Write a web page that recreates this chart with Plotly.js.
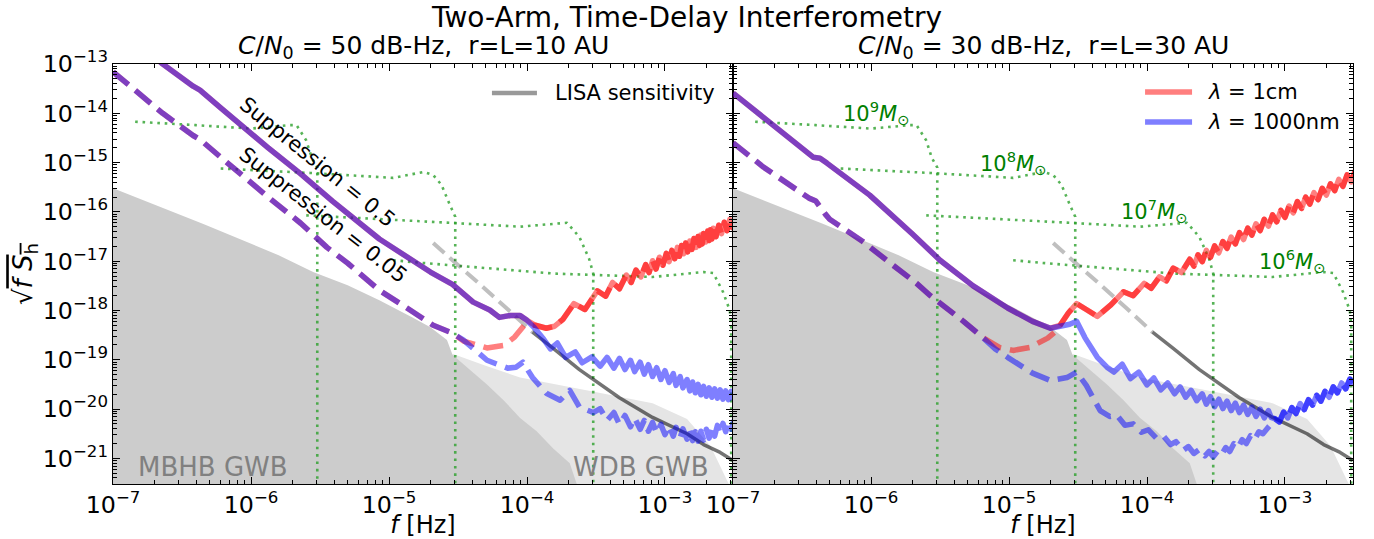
<!DOCTYPE html>
<html><head><meta charset="utf-8">
<script src="https://cdn.plot.ly/plotly-3.0.1.min.js"></script>
<style>html,body{margin:0;padding:0;background:#fff;}#chart{width:1374px;height:539px;}
path.js-line{stroke-linejoin:round;}</style>
</head><body><div id="chart"></div>
<script>
// All values are log10(f [Hz]), log10(sqrt(f S_h)) pairs.

// ---------- Left panel: C/N0 = 50 dB-Hz, r=L=10 AU ----------
const L_common_solid = [[-7.00,-12.18],[-6.64,-13.00],[-6.42,-13.45],[-6.37,-13.53],[-6.22,-13.89],[-5.88,-14.69],[-5.64,-15.23],[-5.41,-15.78],[-5.07,-16.55],[-4.70,-17.22],[-4.54,-17.47],[-4.39,-17.83],[-4.27,-17.99],[-4.20,-18.14],[-4.12,-18.10],[-4.05,-18.10],[-4.00,-18.20]];
const L_red_solid_tail = [[-3.94,-18.30],[-3.86,-18.36],[-3.80,-18.32],[-3.74,-18.18],[-3.66,-17.86],[-3.58,-17.98],[-3.49,-17.60],[-3.43,-17.71],[-3.38,-17.43],[-3.33,-17.56],[-3.28,-17.28],[-3.245,-17.43],[-3.21,-17.18],[-3.175,-17.32],[-3.14,-17.07],[-3.115,-17.23],[-3.09,-16.99],[-3.065,-17.16],[-3.04,-16.92],[-3.015,-17.08],[-2.99,-16.84],[-2.97,-17.01],[-2.95,-16.78],[-2.93,-16.95],[-2.91,-16.72],[-2.895,-16.90],[-2.88,-16.68],[-2.865,-16.85],[-2.85,-16.63],[-2.835,-16.81],[-2.82,-16.59],[-2.805,-16.76],[-2.79,-16.54],[-2.775,-16.72],[-2.76,-16.50],[-2.75,-16.68],[-2.74,-16.47],[-2.73,-16.65],[-2.72,-16.44],[-2.705,-16.61],[-2.69,-16.39],[-2.68,-16.58],[-2.67,-16.36],[-2.66,-16.55],[-2.65,-16.33],[-2.63,-16.50],[-2.61,-16.27],[-2.59,-16.44],[-2.57,-16.21],[-2.55,-16.38],[-2.53,-16.15],[-2.51,-16.32],[-2.49,-16.09]];
const L_common_dashed = [[-7.00,-13.16],[-6.64,-14.00],[-6.42,-14.45],[-6.37,-14.53],[-6.22,-14.89],[-5.88,-15.69],[-5.64,-16.23],[-5.45,-16.72],[-5.30,-17.04],[-5.07,-17.59],[-4.87,-17.95],[-4.68,-18.30],[-4.54,-18.46]];
const L_red_dashed_mid = [[-4.46,-18.62],[-4.29,-18.76],[-4.17,-18.71],[-4.09,-18.54],[-4.02,-18.30]];
const L_blue_solid_tail = [[-3.95,-18.34],[-3.88,-18.58],[-3.83,-18.78],[-3.78,-18.66],[-3.72,-18.95],[-3.65,-18.84],[-3.60,-19.06],[-3.53,-18.94],[-3.47,-19.13],[-3.42,-18.95],[-3.37,-19.17],[-3.33,-18.97],[-3.29,-19.20],[-3.25,-19.01],[-3.22,-19.24],[-3.18,-19.05],[-3.15,-19.29],[-3.12,-19.10],[-3.09,-19.34],[-3.06,-19.16],[-3.03,-19.40],[-3.00,-19.22],[-2.97,-19.46],[-2.94,-19.28],[-2.92,-19.52],[-2.89,-19.34],[-2.87,-19.57],[-2.84,-19.40],[-2.82,-19.63],[-2.80,-19.45],[-2.78,-19.67],[-2.76,-19.50],[-2.74,-19.71],[-2.72,-19.54],[-2.70,-19.74],[-2.68,-19.57],[-2.66,-19.76],[-2.64,-19.59],[-2.62,-19.78],[-2.60,-19.61],[-2.58,-19.80],[-2.56,-19.63],[-2.54,-19.81],[-2.52,-19.64],[-2.50,-19.81]];
const L_blue_dashed_tail = [[-4.46,-18.60],[-4.29,-19.01],[-4.14,-19.17],[-4.08,-19.15],[-4.03,-19.05],[-3.96,-19.36],[-3.86,-19.68],[-3.76,-19.82],[-3.69,-19.62],[-3.62,-19.96],[-3.52,-20.07],[-3.47,-19.99],[-3.42,-20.23],[-3.37,-20.07],[-3.33,-20.31],[-3.29,-20.13],[-3.25,-20.36],[-3.22,-20.18],[-3.18,-20.41],[-3.15,-20.23],[-3.12,-20.45],[-3.09,-20.27],[-3.06,-20.49],[-3.03,-20.31],[-3.00,-20.52],[-2.97,-20.34],[-2.94,-20.55],[-2.92,-20.37],[-2.89,-20.58],[-2.87,-20.40],[-2.84,-20.61],[-2.82,-20.43],[-2.80,-20.64],[-2.78,-20.46],[-2.76,-20.65],[-2.74,-20.45],[-2.72,-20.63],[-2.70,-20.41],[-2.68,-20.59],[-2.66,-20.37],[-2.64,-20.55],[-2.62,-20.33],[-2.60,-20.50],[-2.58,-20.29],[-2.56,-20.46],[-2.54,-20.25],[-2.52,-20.41],[-2.50,-20.23]];

// ---------- Right panel: C/N0 = 30 dB-Hz, r=L=30 AU ----------
const R_common_solid = [[-7.00,-13.59],[-6.71,-14.24],[-6.42,-14.89],[-6.37,-14.91],[-6.32,-15.01],[-6.01,-15.66],[-5.70,-16.45],[-5.50,-16.98],[-5.26,-17.50],[-5.01,-17.95],[-4.83,-18.22],[-4.70,-18.36]];
const R_red_solid_tail = [[-4.63,-18.30],[-4.57,-18.05],[-4.51,-17.86],[-4.44,-17.98],[-4.36,-18.12],[-4.26,-17.88],[-4.17,-17.62],[-4.10,-17.70],[-4.02,-17.45],[-3.97,-17.55],[-3.91,-17.32],[-3.86,-17.40],[-3.81,-17.14],[-3.75,-17.23],[-3.69,-16.96],[-3.66,-17.10],[-3.63,-16.87],[-3.60,-17.01],[-3.57,-16.78],[-3.54,-16.92],[-3.51,-16.69],[-3.48,-16.83],[-3.45,-16.60],[-3.42,-16.74],[-3.39,-16.51],[-3.36,-16.65],[-3.33,-16.42],[-3.30,-16.56],[-3.27,-16.33],[-3.24,-16.47],[-3.21,-16.24],[-3.18,-16.38],[-3.15,-16.15],[-3.12,-16.29],[-3.09,-16.06],[-3.06,-16.20],[-3.03,-15.97],[-3.00,-16.11],[-2.97,-15.88],[-2.94,-16.02],[-2.91,-15.79],[-2.88,-15.93],[-2.85,-15.70],[-2.82,-15.84],[-2.79,-15.61],[-2.76,-15.75],[-2.73,-15.52],[-2.70,-15.66],[-2.67,-15.43],[-2.64,-15.57],[-2.61,-15.34],[-2.58,-15.48],[-2.55,-15.25],[-2.52,-15.39],[-2.49,-15.16]];
const R_common_dashed = [[-7.00,-14.60],[-6.78,-15.09],[-6.45,-15.72],[-6.40,-15.78],[-6.33,-16.05],[-6.30,-16.15],[-6.06,-16.60],[-5.86,-17.04],[-5.67,-17.45],[-5.57,-17.70],[-5.33,-18.22],[-5.19,-18.55]];
const R_red_dashed_mid = [[-5.07,-18.75],[-4.97,-18.81],[-4.85,-18.75],[-4.72,-18.56],[-4.66,-18.42]];
const R_blue_solid_mid = [[-4.63,-18.32],[-4.56,-18.28],[-4.51,-18.22],[-4.45,-18.55],[-4.36,-18.95],[-4.29,-19.15],[-4.24,-19.25],[-4.18,-19.09],[-4.12,-19.38],[-4.06,-19.25],[-4.00,-19.51],[-3.95,-19.37],[-3.90,-19.61],[-3.85,-19.47],[-3.80,-19.69],[-3.76,-19.55],[-3.72,-19.76],[-3.68,-19.62],[-3.64,-19.83],[-3.60,-19.69],[-3.57,-19.90],[-3.54,-19.75],[-3.51,-19.95],[-3.48,-19.80],[-3.45,-19.99],[-3.42,-19.84],[-3.39,-20.03],[-3.36,-19.88],[-3.33,-20.07],[-3.30,-19.92],[-3.27,-20.11],[-3.24,-19.96],[-3.21,-20.15],[-3.18,-20.00],[-3.15,-20.18],[-3.12,-20.03],[-3.10,-20.17]];
const R_blue_dashed_mid = [[-5.10,-18.78],[-5.01,-18.95],[-4.83,-19.27],[-4.70,-19.42],[-4.58,-19.36],[-4.51,-19.25],[-4.44,-19.52],[-4.34,-20.03],[-4.27,-20.15],[-4.22,-20.12],[-4.16,-20.33],[-4.10,-20.30],[-4.04,-20.47],[-3.99,-20.42],[-3.93,-20.60],[-3.88,-20.55],[-3.83,-20.72],[-3.79,-20.66],[-3.74,-20.84],[-3.70,-20.76],[-3.66,-20.90],[-3.62,-20.82],[-3.58,-20.95],[-3.55,-20.86],[-3.52,-20.97],[-3.49,-20.86],[-3.46,-20.93],[-3.43,-20.78],[-3.40,-20.86],[-3.37,-20.70],[-3.34,-20.78],[-3.31,-20.62],[-3.28,-20.70],[-3.25,-20.54],[-3.22,-20.62],[-3.19,-20.46],[-3.16,-20.50],[-3.13,-20.40],[-3.10,-20.30]];
const R_blue_tail = [[-3.07,-20.20],[-3.04,-20.26],[-3.01,-20.06],[-2.98,-20.18],[-2.95,-19.97],[-2.92,-20.09],[-2.89,-19.89],[-2.86,-20.01],[-2.83,-19.81],[-2.80,-19.92],[-2.77,-19.72],[-2.74,-19.84],[-2.71,-19.64],[-2.68,-19.76],[-2.65,-19.55],[-2.62,-19.67],[-2.59,-19.47],[-2.56,-19.59],[-2.53,-19.39],[-2.50,-19.50]];

// ---------- Shared reference curves ----------
const LISA_extrapolated = [[-4.68,-16.63],[-4.54,-16.98],[-4.34,-17.47],[-4.15,-17.95],[-3.96,-18.44]];
const LISA_sensitivity = [[-3.96,-18.44],[-3.81,-18.77],[-3.62,-19.20],[-3.33,-19.77],[-3.09,-20.17],[-2.84,-20.50],[-2.72,-20.72],[-2.60,-20.88],[-2.51,-21.04]];
const MBHB_GWB_edge = [[-7.20,-15.32],[-7.00,-15.52],[-6.35,-16.24],[-5.80,-16.88],[-5.55,-17.22],[-5.30,-17.49],[-5.07,-17.79],[-4.83,-18.14],[-4.70,-18.34],[-4.58,-18.60],[-4.54,-18.90],[-4.41,-19.21],[-4.29,-19.50],[-4.17,-19.82],[-4.05,-20.18],[-3.93,-20.45],[-3.81,-20.80],[-3.69,-21.10],[-3.63,-21.60]];
const WDB_GWB_edge = [[-4.54,-18.88],[-4.30,-19.12],[-4.05,-19.36],[-3.57,-19.62],[-3.09,-19.88],[-2.84,-20.20],[-2.67,-20.75],[-2.55,-21.45],[-2.52,-21.60]];
const track_1e9 = [[-6.84,-14.17],[-6.40,-14.24],[-6.00,-14.31],[-5.72,-14.24],[-5.67,-14.24],[-5.60,-14.55],[-5.56,-14.90],[-5.52,-15.10],[-5.52,-22]];
const track_1e8 = [[-6.22,-15.12],[-5.57,-15.21],[-4.97,-15.31],[-4.75,-15.19],[-4.68,-15.25],[-4.62,-15.45],[-4.56,-15.85],[-4.52,-16.10],[-4.52,-22]];
const track_1e7 = [[-5.60,-16.07],[-4.70,-16.20],[-4.05,-16.30],[-3.71,-16.22],[-3.62,-16.51],[-3.55,-16.95],[-3.52,-17.25],[-3.52,-22]];
const track_1e6 = [[-4.97,-16.98],[-4.78,-17.03],[-3.81,-17.25],[-3.09,-17.32],[-2.72,-17.22],[-2.65,-17.24],[-2.58,-17.62],[-2.53,-18.00],[-2.52,-18.30],[-2.52,-22]];
const trackLabels = ['10<sup>9</sup><i>M</i><sub>⊙</sub>','10<sup>8</sup><i>M</i><sub>⊙</sub>','10<sup>7</sup><i>M</i><sub>⊙</sub>','10<sup>6</sup><i>M</i><sub>⊙</sub>'];
const trackLabelPos = [[-5.957,-13.99],[-4.964,-15.01],[-3.949,-15.98],[-2.949,-17.00]];

const FLOOR = -23;
const FONT = 'DejaVu Sans, sans-serif';
const RED = 'rgba(255,0,0,0.5)', BLUE = 'rgba(0,0,255,0.5)';
const DASH = '20px,9px';
const LW = 5.5;

const p10 = v => Math.pow(10, v);
function xy(pairs){ return {x: pairs.map(p => p10(p[0])), y: pairs.map(p => p10(p[1]))}; }
function lineTrace(pairs, xa, ya, color, width, dash){
  const d = xy(pairs);
  return {type:'scatter', mode:'lines', x:d.x, y:d.y, xaxis:xa, yaxis:ya,
    line:{color:color, width:width, dash:dash || 'solid', simplify:false}, hoverinfo:'skip', showlegend:false};
}
function fillTrace(pairs, xa, ya, color){
  const poly = [[pairs[0][0], FLOOR]].concat(pairs, [[pairs[pairs.length-1][0], FLOOR]]);
  const d = xy(poly);
  return {type:'scatter', mode:'lines', x:d.x, y:d.y, xaxis:xa, yaxis:ya, fill:'toself',
    fillcolor:color, line:{width:0, color:color}, hoverinfo:'skip', showlegend:false};
}

function panel(xa, ya, cs, rst, cd, rdm, bs, bd){
  const t = [];
  t.push(fillTrace(WDB_GWB_edge, xa, ya, '#e5e5e5'));
  t.push(fillTrace(MBHB_GWB_edge, xa, ya, '#cccccc'));
  [track_1e9, track_1e8, track_1e7, track_1e6].forEach(tr => t.push(lineTrace(tr, xa, ya, 'rgba(44,160,44,0.8)', 2.6, '2.6px,4.8px')));
  t.push(lineTrace(LISA_extrapolated, xa, ya, 'rgba(0,0,0,0.25)', 4, '15px,7px'));
  t.push(lineTrace(LISA_sensitivity, xa, ya, 'rgba(0,0,0,0.55)', 3.5));
  t.push(lineTrace(cs.concat(rst), xa, ya, RED, LW));
  t.push(lineTrace(cd.concat(rdm, rst), xa, ya, RED, LW, DASH));
  t.push(lineTrace(cs.concat(bs), xa, ya, BLUE, LW));
  t.push(lineTrace(cd.concat(bd), xa, ya, BLUE, LW, DASH));
  return t;
}

const traces = [].concat(
  panel('x','y', L_common_solid, L_red_solid_tail, L_common_dashed, L_red_dashed_mid, L_blue_solid_tail, L_blue_dashed_tail),
  panel('x2','y2', R_common_solid, R_red_solid_tail, R_common_dashed, R_red_dashed_mid, R_blue_solid_mid.concat(R_blue_tail), R_blue_dashed_mid.concat(R_blue_tail))
);

function xAxis(domain, anchor){
  return {type:'log', domain:domain, anchor:anchor, range:[-7.0005,-2.507], dtick:1, tick0:0,
    exponentformat:'power', ticks:'inside', ticklen:7, tickwidth:1, tickcolor:'#000',
    minor:{dtick:'D1', ticks:'inside', ticklen:4, tickwidth:1, tickcolor:'#000', showgrid:false},
    showline:true, linecolor:'#000', linewidth:1.2, mirror:'allticks', showgrid:false, zeroline:false,
    tickfont:{family:FONT, size:19, color:'#000'},
    title:{text:'<i>f</i> [Hz]', font:{family:FONT, size:24, color:'#000'}, standoff:10}};
}
function yAxis(anchor, labels){
  const a = {type:'log', domain:[0,1], anchor:anchor, range:[-21.52,-12.9995], dtick:1,
    exponentformat:'power', ticks:'inside', ticklen:7, tickwidth:1, tickcolor:'#000',
    minor:{dtick:'D1', ticks:'inside', ticklen:4, tickwidth:1, tickcolor:'#000', showgrid:false},
    showline:true, linecolor:'#000', linewidth:1.2, mirror:'allticks', showgrid:false, zeroline:false,
    showticklabels:labels, tickfont:{family:FONT, size:19, color:'#000'}};
  if(labels) a.title = {text:'√<span style="text-decoration:overline"><i>f S</i><sub>h</sub></span>', font:{family:FONT, size:26, color:'#000'}, standoff:2};
  return a;
}

const annotations = [
  {xref:'paper', yref:'paper', x:0.25, y:1.0405, text:'<i>C</i>/<i>N</i><sub>0</sub> = 50 dB-Hz,\u00a0\u00a0r=L=10 AU', showarrow:false, xanchor:'center', yanchor:'middle', font:{size:25}},
  {xref:'paper', yref:'paper', x:0.75, y:1.0405, text:'<i>C</i>/<i>N</i><sub>0</sub> = 30 dB-Hz,\u00a0\u00a0r=L=30 AU', showarrow:false, xanchor:'center', yanchor:'middle', font:{size:25}},
  {xref:'x', yref:'y', x:-5.52, y:-14.99, text:'Suppression = 0.5', textangle:39, showarrow:false, font:{size:21}},
  {xref:'x', yref:'y', x:-5.478, y:-16.07, text:'Suppression = 0.05', textangle:38, showarrow:false, font:{size:21}},
  {xref:'x', yref:'y', x:-6.275, y:-21.18, text:'MBHB GWB', showarrow:false, font:{size:26, color:'#808080'}},
  {xref:'x', yref:'y', x:-3.174, y:-21.18, text:'WDB GWB', showarrow:false, font:{size:26, color:'#808080'}},
  {xref:'paper', yref:'paper', x:0.3548, y:0.931, text:'LISA sensitivity', showarrow:false, xanchor:'left', yanchor:'middle', font:{size:21}},
  {xref:'paper', yref:'paper', x:0.8815, y:0.9333, text:'<i>λ</i> = 1cm', showarrow:false, xanchor:'left', yanchor:'middle', font:{size:21}},
  {xref:'paper', yref:'paper', x:0.8815, y:0.8619, text:'<i>λ</i> = 1000nm', showarrow:false, xanchor:'left', yanchor:'middle', font:{size:21}}
];
trackLabels.forEach((t,i) => annotations.push({xref:'x2', yref:'y2', x:trackLabelPos[i][0], y:trackLabelPos[i][1], text:t, showarrow:false, font:{size:21, color:'#008000'}}));

const shapes = [
  {type:'line', xref:'paper', yref:'paper', x0:0.3056, x1:0.3419, y0:0.931, y1:0.931, line:{color:'rgba(0,0,0,0.4)', width:4.5}},
  {type:'line', xref:'paper', yref:'paper', x0:0.8323, x1:0.8702, y0:0.9333, y1:0.9333, line:{color:RED, width:LW}},
  {type:'line', xref:'paper', yref:'paper', x0:0.8323, x1:0.8702, y0:0.8619, y1:0.8619, line:{color:BLUE, width:LW}}
];

const layout = {
  width:1374, height:539, margin:{l:113, r:21, t:64, b:55},
  paper_bgcolor:'#fff', plot_bgcolor:'#fff', showlegend:false,
  font:{family:FONT, color:'#000', size:19},
  title:{text:'Two-Arm, Time-Delay Interferometry', x:0.5, xref:'container', xanchor:'center', y:1-17/539, yref:'container', yanchor:'middle', font:{family:FONT, size:28, color:'#000'}},
  xaxis:xAxis([0,0.5],'y'), xaxis2:xAxis([0.5,1],'y2'),
  yaxis:yAxis('x', true), yaxis2:yAxis('x2', false),
  annotations:annotations, shapes:shapes
};

Plotly.newPlot('chart', traces, layout, {staticPlot:true, displayModeBar:false});
</script></body></html>
